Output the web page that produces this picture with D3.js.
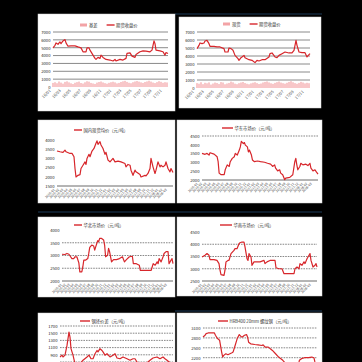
<!DOCTYPE html>
<html>
<head>
<meta charset="utf-8">
<script src="https://cdn.jsdelivr.net/npm/d3@7"></script>
<style>
body { margin: 0; background: #000; }
svg { display: block; }
</style>
</head>
<body>
<script>
// ---- data (weeks from start, values in 元/吨) ----
var monthLabels = ["16/01","16/03","16/05","16/07","16/09","16/11","17/01","17/03","17/05","17/07","17/09","17/11"];
var dateLabels = ["2016-01","2016-02","2016-03","2016-04","2016-05","2016-06","2016-07","2016-08","2016-09","2016-10","2016-11","2016-12","2017-01","2017-02","2017-03","2017-04","2017-05","2017-06","2017-07","2017-08","2017-09","2017-10","2017-11","2017-12","2018-01","2018-02","2018-03"];

var weeks1 = [0,2,3,5,7,8,10,12,13,15,18,22,25,28,30,33,34,36,37,40,42,43,45,47,48,50,53,57,60,62,63,67,70,73,74,77,79,82,83,87,90,93,97,99,101,102,103,107,110,112,113,115];
var price1 = [4980,5310,5610,5440,5730,5520,5860,6030,5610,5190,5230,5230,5100,4980,4480,4480,4980,4980,4690,4060,3640,3510,3770,3640,4060,3770,3510,3430,3310,3510,3310,3510,3430,3640,4270,4350,3930,3770,4140,4480,4600,4560,4480,4690,5860,5520,4690,4600,4480,4060,4390,4270];
var basis1 = [520,610,480,700,560,430,650,720,590,470,380,540,620,690,510,440,600,730,680,520,450,390,560,640,700,580,490,420,530,610,670,590,460,520,640,720,780,650,540,480,610,700,760,680,590,520,640,710,800,690,570,500,620,740,660,540,610,580];

var weeks2 = [0,2,3,5,7,8,10,12,13,17,20,23,27,28,31,32,34,36,38,41,42,44,45,47,48,52,55,58,60,62,65,68,72,73,75,78,80,82,85,88,92,95,97,99,100,102,105,108,110,112,113];
var price2 = [4920,5330,5630,5540,5630,5880,5960,5540,5210,5210,5130,5130,4920,4500,4500,5000,4920,4710,4080,3670,3460,3790,3880,4080,3790,3540,3460,3170,3460,3380,3540,3540,3880,4290,4380,3880,3790,4080,4290,4500,4380,4380,4710,5960,5330,4500,4420,4420,3880,4170,4290];
var basis2 = [610,540,720,480,650,590,700,430,560,680,620,510,740,690,470,560,630,800,710,540,480,600,690,750,620,530,470,580,660,720,610,500,560,690,760,820,700,590,520,640,730,810,680,600,540,650,760,850,720,610,530,640,770,690,580,650,600];

var weeks3 = [0,3,6,8,9,13,15,17,18,19,21,23,24,26,28,29,30,32,33,35,37,39,40,41,43,44,46,48,49,51,53,56,58,61,64,68,69,71,73,74,76,78,79,83,84,88,89,91,93,94,96,98,99,101,103,104,106,108,109,111,113,114,116];
var price3 = [3400,3360,3330,3450,3360,3270,3270,3090,2450,1990,2080,2120,2450,2630,2810,2670,3000,3220,3090,3400,3540,3820,3950,3760,3910,3730,3540,3220,3330,2910,2810,3000,2810,2850,2810,2720,2540,2670,2630,2360,2080,2360,2270,2120,1990,2080,2050,2180,2450,3000,2540,2180,2360,2810,2540,2630,2540,2630,2810,2450,2270,2450,2230];

var weeks4 = [0,3,5,7,8,12,15,16,17,19,22,23,25,27,28,30,32,33,35,37,38,39,41,42,43,45,46,47,49,50,52,55,58,62,65,68,70,72,73,75,77,78,80,82,83,87,90,92,93,94,95,97,98,100,103,105,107,108,110,112,113,115];
var price4 = [3510,3460,3510,3420,3550,3470,3320,3040,2390,2300,2300,2580,2860,2770,3040,3230,3320,3510,3420,3700,3880,4200,4070,4130,3980,3880,3600,3700,3420,3140,3040,3080,3040,3010,2950,2900,2770,2860,2670,2520,2580,2390,2300,2020,2110,2150,2300,3040,3230,2860,2580,2770,2950,2860,2900,2820,2950,2670,2520,2580,2490,2340];

var weeks5 = [0,3,5,7,8,10,12,13,15,17,18,20,21,22,24,26,27,28,30,32,33,34,36,37,38,40,42,43,44,46,47,48,50,52,55,58,61,63,65,68,71,72,75,78,79,82,85,90,91,92,94,96,97,98,100,102,103,105,107,108,109,111,112];
var price5 = [3050,3040,3080,3050,2990,2880,2880,2950,2950,2710,2360,2360,2550,2820,2820,2880,3080,3320,3410,3370,3210,3340,3580,3540,3670,3670,3610,3410,2950,3010,3280,3150,2750,2840,2840,2880,2950,2750,2840,2950,2970,2680,2680,2620,2420,2420,2420,2420,2550,2680,2620,2750,2680,2880,2750,2950,3080,3150,3150,2680,2750,2880,2680];

var weeks6 = [0,3,5,7,8,12,15,17,18,19,22,23,24,26,27,29,32,33,35,37,38,40,42,43,45,46,47,49,50,52,55,58,62,63,65,68,73,74,77,80,82,85,88,92,93,95,97,98,100,102,103,105,107,108,109,111,113,114,115];
var price6 = [3480,3550,3620,3550,3370,3370,3340,3210,2940,2760,2730,2940,3280,3340,3340,3620,3750,3820,3820,4020,4060,4090,4090,3890,3410,3340,3620,3480,3140,3280,3280,3280,3340,3210,3280,3340,3340,3040,3000,3000,2800,2800,2800,2800,3000,3070,3000,3210,3140,3280,3210,3410,3550,3620,3340,3070,3140,3210,3070];

var weeks7 = [0,2,3,5,7,8,9,10,11,13,15,17,20,23,27,29,31,33,35,37,38,40,42,43,45,47,50,53,55,57,60,63,67,70,73,75,77,80,85,90,92,93,97,100,103,105,107,110];
var price7 = [840,890,840,890,1160,1350,1530,1390,1070,890,650,560,650,750,840,890,790,790,930,1020,980,1070,1020,980,890,930,840,890,930,810,790,840,790,750,790,790,700,610,630,750,790,810,840,790,840,790,750,680];

var weeks8 = [0,2,3,5,8,11,12,14,16,18,19,20,22,24,26,28,29,31,33,35,37,38,40,42,43,44,46,50,53,57,58,60,63,67,70,73,77,79,83,88,92,93,95,98,102,105,107,108,110];
var price8 = [2830,2880,2930,2950,2950,2950,2880,2780,2730,2370,2220,2270,2320,2290,2320,2350,2370,2570,2780,2900,2830,2830,2880,2900,2830,2670,2620,2600,2590,2570,2590,2520,2520,2420,2320,2220,2120,2050,1920,1870,1970,2120,2170,2200,2200,2220,2200,2070,1970];

var RED = "#d7262b", PINK = "#f3a3a6";
var FONT = "'Noto Sans CJK SC', 'Noto Sans', sans-serif";

var svg = d3.select("body").append("svg")
	.attr("width", 362)
	.attr("height", 362);

// dark separator strips between rows
[[175, 322, 14], [38, 322, 212], [175, 322, 311]].forEach(function(s) {
	svg.append("line").attr("x1", s[0]).attr("x2", s[1]).attr("y1", s[2]).attr("y2", s[2])
		.attr("stroke", "#1d3a58").attr("stroke-width", 1.2);
});

function panel(o) {
	var g = svg.append("g");
	g.append("rect")
		.attr("x", o.box[0]).attr("y", o.box[1])
		.attr("width", o.box[2] - o.box[0]).attr("height", o.box[3] - o.box[1])
		.attr("fill", "#fff").attr("stroke", "#d8d8d8").attr("stroke-width", 0.5);

	var x = d3.scaleLinear().domain([0, o.weeks]).range([o.plot[0], o.plot[2]]);
	var y = d3.scaleLinear().domain(o.yDomain).range([o.plot[3], o.plot[1]]);
	var ticks = d3.range(o.yDomain[0], o.yDomain[1] + 1, o.yStep);

	// grid lines
	var gridTicks = ticks.filter(function(t) { return o.grid(t); });
	g.selectAll(".grid").data(gridTicks).enter().append("line")
		.attr("x1", o.plot[0]).attr("x2", o.plot[2])
		.attr("y1", function(d) { return y(d); }).attr("y2", function(d) { return y(d); })
		.attr("stroke", o.dashed ? "#555" : "#8a8a8a")
		.attr("stroke-width", o.dashed ? 0.7 : 1)
		.attr("stroke-dasharray", o.dashed ? "1.6,1" : null);

	// y axis through d3 (only labels that sit inside the window)
	var shown = ticks.filter(function(t) { return y(t) < 359; });
	var yAxis = d3.axisLeft(y).tickValues(shown).tickSize(0).tickPadding(2.5)
		.tickFormat(d3.format("d"));
	var ya = g.append("g").attr("transform", "translate(" + o.plot[0] + ",0)").call(yAxis);
	ya.select(".domain").remove();
	ya.selectAll("text").attr("font-size", 4.2).attr("font-family", FONT).attr("fill", "#222");

	// bottom axis line
	if (o.axisLine) {
		g.append("line").attr("x1", o.plot[0]).attr("x2", o.plot[2])
			.attr("y1", o.plot[3]).attr("y2", o.plot[3])
			.attr("stroke", "#444").attr("stroke-width", 0.8);
	}

	// bars
	if (o.bars) {
		g.selectAll(".bar").data(o.bars).enter().append("rect")
			.attr("x", function(d, i) { return x(i * 2) - 0.6; })
			.attr("width", 1.2)
			.attr("y", function(d) { return y(d); })
			.attr("height", function(d) { return y(o.yDomain[0]) - y(d); })
			.attr("fill", PINK);
	}

	// line
	var pts = o.xs.map(function(w, i) { return [w, o.ys[i]]; });
	g.append("path").datum(pts)
		.attr("d", d3.line().x(function(d) { return x(d[0]); }).y(function(d) { return y(d[1]); }))
		.attr("fill", "none").attr("stroke", RED).attr("stroke-width", 1.2)
		.attr("stroke-linejoin", "round");

	// x labels
	if (o.labels) {
		var xl = d3.scalePoint().domain(o.labels).range([o.plot[0] + o.labelShift, o.plot[2] - 6]);
		g.selectAll(".xl").data(o.labels).enter().append("text")
			.attr("transform", function(d) {
				return "translate(" + xl(d) + "," + (o.plot[3] + 4) + ") rotate(-45)";
			})
			.attr("text-anchor", "end")
			.attr("font-size", o.labelSize).attr("font-family", FONT).attr("fill", "#444")
			.text(function(d) { return d; });
	}

	// legend
	var lx = o.legend[0], ly = o.legend[1];
	o.legendItems.forEach(function(it) {
		if (it.type == "bar") {
			g.append("rect").attr("x", lx).attr("y", ly - 1.5).attr("width", 7).attr("height", 3).attr("fill", PINK);
		} else {
			g.append("line").attr("x1", lx).attr("x2", lx + it.w).attr("y1", ly).attr("y2", ly)
				.attr("stroke", RED).attr("stroke-width", 1.4);
		}
		var t = g.append("text").attr("x", lx + (it.type == "bar" ? 9 : it.w + 1.5)).attr("y", ly + 1.5)
			.attr("font-size", 4.3).attr("font-family", FONT).attr("fill", "#333").text(it.name);
		lx = lx + (it.type == "bar" ? 9 : it.w + 1.5) + t.node().getComputedTextLength() + 9;
	});
}

panel({ box: [38, 14, 175, 111], plot: [53, 32, 168, 87], weeks: 115,
	yDomain: [0, 7000], yStep: 1000, grid: function(t) { return t > 0; }, dashed: false, axisLine: false,
	xs: weeks1, ys: price1, bars: basis1, labels: monthLabels, labelShift: -2, labelSize: 4,
	legend: [80, 25], legendItems: [{ type: "bar", name: "基差" }, { type: "line", w: 8, name: "期货收盘价" }] });

panel({ box: [179, 17, 321, 108], plot: [197, 32, 310, 88], weeks: 113,
	yDomain: [0, 7000], yStep: 1000, grid: function(t) { return t > 0; }, dashed: false, axisLine: false,
	xs: weeks2, ys: price2, bars: basis2, labels: monthLabels, labelShift: -3, labelSize: 4,
	legend: [223, 24], legendItems: [{ type: "bar", name: "现货" }, { type: "line", w: 8, name: "期货收盘价" }] });

panel({ box: [38, 120, 175, 203], plot: [57, 140, 173, 186], weeks: 116,
	yDomain: [1500, 4000], yStep: 500, grid: function(t) { return false; }, dashed: true, axisLine: true,
	xs: weeks3, ys: price3, labels: dateLabels, labelShift: -2, labelSize: 3.3,
	legend: [74, 130], legendItems: [{ type: "line", w: 8, name: "国内现货均价（元/吨）" }] });

panel({ box: [177, 120, 322, 203], plot: [202, 136, 318, 180], weeks: 115,
	yDomain: [2000, 4500], yStep: 500, grid: function(t) { return t == 4500; }, dashed: true, axisLine: true,
	xs: weeks4, ys: price4, labels: dateLabels, labelShift: -4, labelSize: 3.3,
	legend: [222, 128], legendItems: [{ type: "line", w: 11, name: "华东市场价（元/吨）" }] });

panel({ box: [38, 217, 175, 297], plot: [62, 230, 173, 281], weeks: 112,
	yDomain: [2000, 4000], yStep: 500, grid: function(t) { return t > 2000 && t < 4000; }, dashed: true, axisLine: true,
	xs: weeks5, ys: price5, labels: dateLabels, labelShift: 0, labelSize: 3.3,
	legend: [74, 225], legendItems: [{ type: "line", w: 8, name: "华北市场价（元/吨）" }] });

panel({ box: [177, 217, 322, 296], plot: [202, 232, 317, 281], weeks: 115,
	yDomain: [2500, 4500], yStep: 500, grid: function(t) { return t > 2500 && t < 4500; }, dashed: true, axisLine: true,
	xs: weeks6, ys: price6, labels: dateLabels, labelShift: 0, labelSize: 3.3,
	legend: [220, 225], legendItems: [{ type: "line", w: 12, name: "华南市场价（元/吨）" }] });

// bottom row runs past the window edge; its x labels fall outside and are not drawn
panel({ box: [38, 313, 175, 420], plot: [60, 326, 173, 376.4], weeks: 113,
	yDomain: [300, 1700], yStep: 200, grid: function(t) { return t > 300; }, dashed: true, axisLine: true,
	xs: weeks7, ys: price7, labels: null,
	legend: [80, 321], legendItems: [{ type: "line", w: 10, name: "钢坯价差（元/吨）" }] });

panel({ box: [177, 313, 322, 420], plot: [203, 328, 317, 377.5], weeks: 110,
	yDomain: [1600, 3100], yStep: 300, grid: function(t) { return t > 1600; }, dashed: true, axisLine: true,
	xs: weeks8, ys: price8, labels: null,
	legend: [218, 321], legendItems: [{ type: "line", w: 10, name: "HRB400 20mm 螺纹钢（元/吨）" }] });
</script>
</body>
</html>
